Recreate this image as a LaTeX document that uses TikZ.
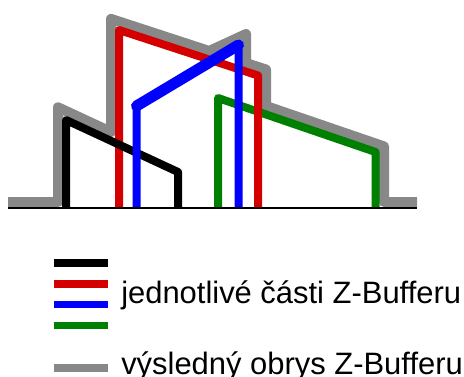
\documentclass[tikz,border=0pt]{standalone}
\usepackage{fontspec}
\setmainfont{Liberation Sans}
\definecolor{zred}{RGB}{212,0,0}
\definecolor{zblue}{RGB}{0,0,255}
\definecolor{zgreen}{RGB}{0,128,0}
\definecolor{zgray}{RGB}{136,136,136}
\begin{document}
\begin{tikzpicture}[x=0.75pt,y=-0.75pt,
  part/.style={line width=6pt,line join=round,line cap=butt},
  outline/.style={line width=7.5pt,color=zgray,line join=round,line cap=butt},
  legbar/.style={line width=5.6pt,line cap=butt},
  legtext/.style={anchor=base west,inner sep=0pt,font=\fontsize{23.2pt}{27pt}\selectfont}]
\useasboundingbox (0,0) rectangle (464,376);
% resulting outline
\draw[outline] (8,202) -- (58,202) -- (58,107.3) -- (111,131.9) -- (111,18.9)
  -- (209.2,51) -- (246,34) -- (246,63) -- (266,69.5) -- (266,106)
  -- (384,146.4) -- (384,202) -- (417,202);
% individual parts
\draw[part,zgreen] (218,207) -- (218,98) -- (375.5,152) -- (375.5,207);
\draw[part,zred] (119,207) -- (119,30) -- (258,75.5) -- (258,207);
\draw[part,black] (66,207) -- (66,120) -- (178,172) -- (178,207);
\draw[part,zblue] (136.5,207) -- (136.5,106) -- (238.5,45) -- (238.5,207);
\draw[zblue,line width=8.25pt,line cap=round] (136.5,106) -- (238.5,45);
% ground line
\draw[black,line width=1.2pt] (8,207.8) -- (417,207.8);
% legend
\draw[legbar,black] (54,263) -- (108.3,263);
\draw[legbar,zred] (54,284) -- (108.3,284);
\draw[legbar,zblue] (54,304.7) -- (108.3,304.7);
\draw[legbar,zgreen] (54,325.5) -- (108.3,325.5);
\draw[legbar,zgray] (54,368) -- (108.3,368);
\node[legtext] (parts) at (121,303) {jednotlivé části Z-Bufferu};
\node[legtext] (result) at (121,374) {výsledný obrys Z-Bufferu};
\end{tikzpicture}
\end{document}
